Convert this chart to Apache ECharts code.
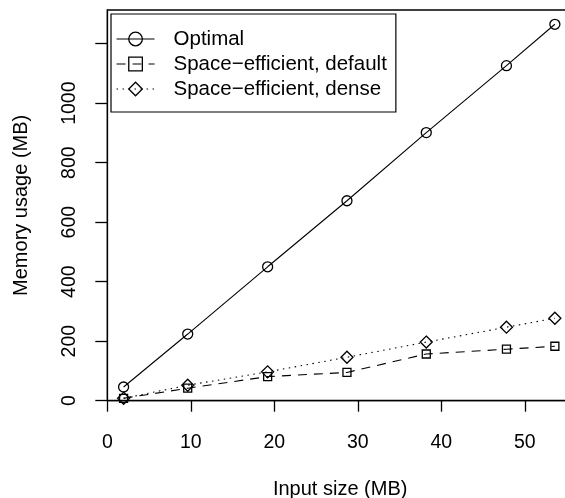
<!DOCTYPE html>
<html>
<head>
<meta charset="utf-8">
<script src="https://cdn.jsdelivr.net/npm/echarts@6/dist/echarts.min.js"></script>
<style>
html,body{margin:0;padding:0;background:#fff;}
#c{width:565px;height:498px;}
</style>
</head>
<body>
<div id="c"></div>
<script>
const inputSize = [1.95, 9.63, 19.2, 28.7, 38.2, 47.8, 53.6];
const optimal = [46, 224, 450, 672, 901, 1126, 1265];
const spaceDefault = [8, 42, 81, 95, 157, 173, 183];
const spaceDense = [8, 52, 97, 146, 197, 247, 277];
const seriesNames = ['Optimal', 'Space\u2212efficient, default', 'Space\u2212efficient, dense'];
const xTicks = [0, 10, 20, 30, 40, 50];
const yTicks = [0, 200, 400, 600, 800, 1000, 1200];
const yTickLabels = [0, 200, 400, 600, 800, 1000];

const FONT = '"Liberation Sans", Arial, Helvetica, sans-serif';
const pair = arr => arr.map((v, i) => [inputSize[i], v]);

const chart = echarts.init(document.getElementById('c'), null, {renderer: 'canvas'});

function mk(name, data, symbol, size, lineType) {
  return {
    name: name,
    type: 'line',
    data: pair(data),
    symbol: symbol,
    symbolSize: size,
    showSymbol: true,
    lineStyle: {color: '#000', width: 1.1, type: lineType},
    itemStyle: {color: 'rgba(255,255,255,0)', borderColor: '#000', borderWidth: 1.3},
    emphasis: {disabled: true},
    animation: false
  };
}

chart.setOption({
  backgroundColor: '#fff',
  animation: false,
  textStyle: {fontFamily: FONT},
  grid: {
    left: 107.3, right: -8, top: 10, bottom: 97.3,
    outerBoundsMode: 'none',
    containLabel: false,
    show: true, borderColor: '#000', borderWidth: 1.3, backgroundColor: 'rgba(0,0,0,0)'
  },
  legend: {
    orient: 'vertical',
    left: 111, top: 14,
    padding: [14, 9, 12, 5],
    borderColor: '#000', borderWidth: 1.2, borderRadius: 0,
    itemWidth: 38, itemHeight: 17, itemGap: 3,
    lineStyle: {width: 1.1, color: '#000'},
    itemStyle: {borderWidth: 1.3, borderColor: '#000', color: 'rgba(255,255,255,0)'},
    textStyle: {fontSize: 20.5, color: '#000', fontFamily: FONT, lineHeight: 22, padding: [0, 0, 0, 14]},
    data: seriesNames,
    selectedMode: false
  },
  xAxis: {
    type: 'value',
    min: 0, max: 55.77, interval: 10,
    name: 'Input size (MB)',
    nameLocation: 'middle', nameGap: 79,
    nameTextStyle: {fontSize: 20, color: '#000', fontFamily: FONT},
    axisLine: {show: true, onZero: false, lineStyle: {color: '#000', width: 1.3}},
    axisTick: {show: true, length: 11, customValues: xTicks, lineStyle: {color: '#000', width: 1.3}},
    axisLabel: {
      fontSize: 19.5, color: '#000', margin: 32, fontFamily: FONT,
      customValues: xTicks,
      formatter: v => String(v)
    },
    splitLine: {show: false}
  },
  yAxis: {
    type: 'value',
    min: 0, max: 1313, interval: 200,
    name: 'Memory usage (MB)',
    nameLocation: 'middle', nameGap: 76, nameRotate: 90,
    nameTextStyle: {fontSize: 20, color: '#000', fontFamily: FONT},
    axisLine: {show: true, onZero: false, lineStyle: {color: '#000', width: 1.3}},
    axisTick: {show: true, length: 12, customValues: yTicks, lineStyle: {color: '#000', width: 1.3}},
    axisLabel: {
      rotate: 90, fontSize: 19.5, color: '#000', margin: 28, fontFamily: FONT,
      customValues: yTickLabels,
      formatter: v => String(v)
    },
    splitLine: {show: false}
  },
  series: [
    mk(seriesNames[0], optimal, 'circle', 10, 'solid'),
    mk(seriesNames[1], spaceDefault, 'rect', 8, [9, 7]),
    mk(seriesNames[2], spaceDense, 'diamond', 12, [1.5, 4.5])
  ]
});
</script>
</body>
</html>
